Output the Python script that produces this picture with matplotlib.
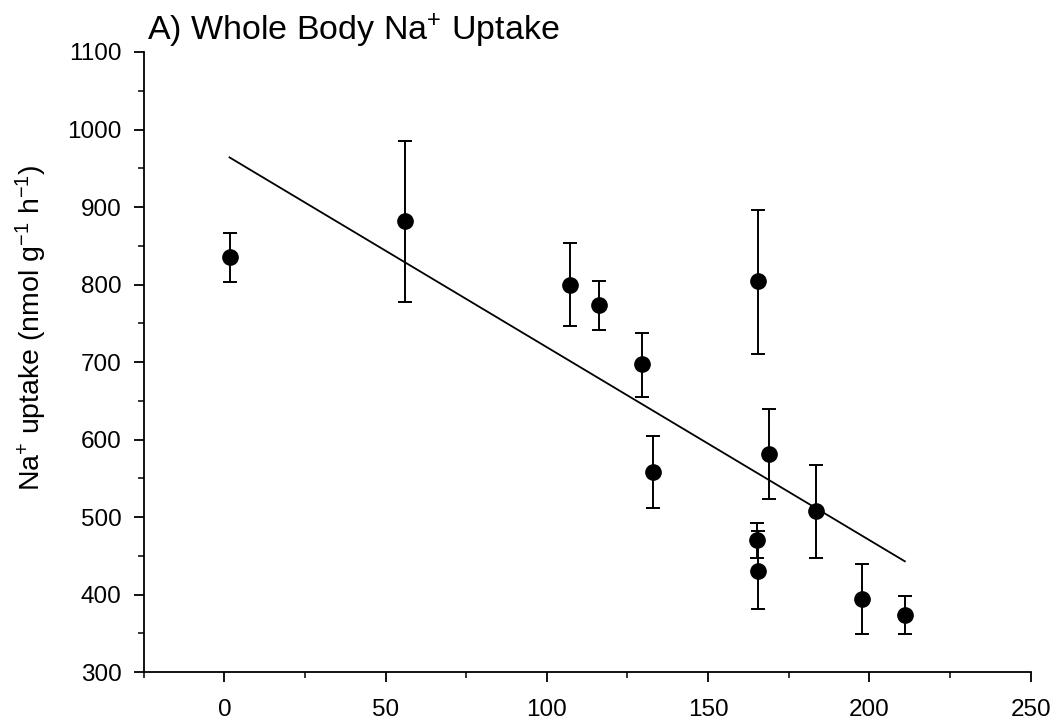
import numpy as np
import matplotlib.pyplot as plt
from matplotlib.ticker import MultipleLocator

plt.rcParams['font.family'] = ['Liberation Sans', 'DejaVu Sans']
plt.rcParams['mathtext.fontset'] = 'custom'
plt.rcParams['mathtext.rm'] = 'Liberation Sans'
plt.rcParams['mathtext.it'] = 'Liberation Sans'
plt.rcParams['mathtext.bf'] = 'Liberation Sans:bold'

# data
x = [1.6, 56.1, 107.1, 116.1, 129.6, 165.5, 133.0, 169.0, 183.4, 165.3, 165.6, 197.8, 211.0]
y = [835, 882, 800, 773, 697, 804, 558, 581, 508, 470, 431, 394, 374]
err_hi = [867, 985, 853, 804, 738, 896, 605, 639, 567, 493, 482, 439, 398]
err_lo = [803, 778, 746, 742, 655, 710, 512, 523, 447, 447, 381, 349, 349]

# regression line
fit_intercept = 968.0
fit_slope = -2.488

x = np.array(x)
y = np.array(y)
yerr = np.array([y - np.array(err_lo), np.array(err_hi) - y])

fig = plt.figure(figsize=(10.57, 7.22), dpi=100)
ax = fig.add_axes([0.136, 0.069, 0.839, 0.859])

xl = np.array([x.min(), x.max()])
ax.plot(xl, fit_intercept + fit_slope * xl, color='black', lw=1.3, zorder=2)

ax.errorbar(x, y, yerr=yerr, fmt='o', color='black', ms=11, elinewidth=1.4,
            capsize=4.7, capthick=1.4, zorder=3)

ax.set_xlim(-25, 250)
ax.set_ylim(300, 1100)
ax.xaxis.set_major_locator(MultipleLocator(50))
ax.xaxis.set_minor_locator(MultipleLocator(25))
ax.yaxis.set_major_locator(MultipleLocator(100))
ax.yaxis.set_minor_locator(MultipleLocator(50))

for s in ['top', 'right']:
    ax.spines[s].set_visible(False)
for s in ['left', 'bottom']:
    ax.spines[s].set_linewidth(1.3)

ax.tick_params(which='major', length=7, width=1.3, labelsize=17.5)
ax.tick_params(axis='x', which='major', pad=12)
ax.tick_params(axis='y', which='major', pad=9)
ax.tick_params(which='minor', length=4, width=1.1)

fig.text(0.139, 0.957, 'A) Whole Body Na$^{+}$ Uptake', fontsize=24.5,
         ha='left', va='center')
fig.text(0.03, 1 - 328 / 722, 'Na$^{+}$ uptake (nmol g$^{-1}$ h$^{-1}$)',
         fontsize=20.5, rotation=90, ha='center', va='center')

plt.savefig('out.png', dpi=100)
